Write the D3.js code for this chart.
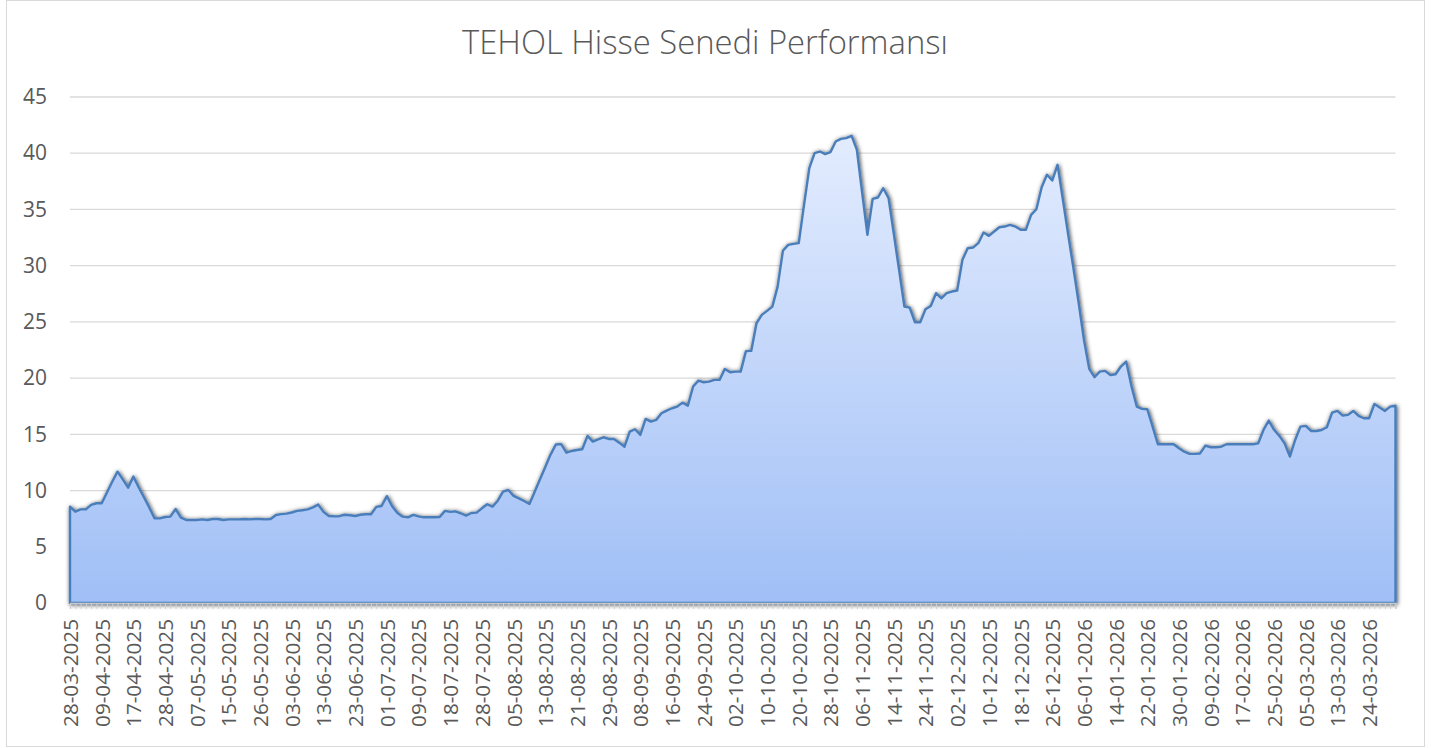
<!DOCTYPE html>
<html>
<head>
<meta charset="utf-8">
<script src="https://cdn.jsdelivr.net/npm/d3@7"></script>
<style>
  body { margin: 0; background: #fff; }
  svg { display: block; font-family: "Open Sans", "Noto Sans", sans-serif; }
</style>
</head>
<body>
<svg id="chart" width="1442" height="748"></svg>
<script>
// closing prices, one per trading day (28-03-2025 .. end of March 2026)
const prices = [
  8.57, 8.12, 8.33, 8.33, 8.72, 8.87, 8.87, 9.83, 10.78, 11.68,
  11.0, 10.26, 11.24, 10.3, 9.4, 8.5, 7.53, 7.53, 7.65, 7.68,
  8.36, 7.6, 7.38, 7.38, 7.38, 7.44, 7.38, 7.47, 7.47, 7.38,
  7.44, 7.44, 7.44, 7.47, 7.44, 7.47, 7.47, 7.44, 7.47, 7.83,
  7.9, 7.95, 8.05, 8.19, 8.25, 8.33, 8.5, 8.75, 8.1, 7.74,
  7.7, 7.72, 7.85, 7.8, 7.74, 7.85, 7.89, 7.89, 8.55, 8.63,
  9.5, 8.6, 8.0, 7.68, 7.62, 7.83, 7.7, 7.62, 7.62, 7.62,
  7.65, 8.19, 8.1, 8.15, 7.98, 7.77, 8.0, 8.04, 8.42, 8.78,
  8.57, 9.1, 9.9, 10.05, 9.52, 9.31, 9.07, 8.81, 9.9, 11.0,
  12.1, 13.2, 14.1, 14.13, 13.37, 13.52, 13.61, 13.67, 14.86, 14.35,
  14.56, 14.74, 14.59, 14.59, 14.26, 13.9, 15.24, 15.45, 14.95, 16.37,
  16.13, 16.28, 16.87, 17.11, 17.32, 17.47, 17.82, 17.55, 19.25, 19.78,
  19.63, 19.69, 19.84, 19.84, 20.82, 20.52, 20.58, 20.58, 22.4, 22.42,
  24.88, 25.62, 25.98, 26.36, 28.14, 31.32, 31.85, 31.94, 32.0, 35.4,
  38.67, 40.0, 40.15, 39.92, 40.1, 41.04, 41.28, 41.34, 41.55, 40.3,
  36.5, 32.74, 35.94, 36.06, 36.89, 36.0, 32.8, 29.6, 26.36, 26.27,
  24.97, 24.97, 26.13, 26.42, 27.55, 27.1, 27.55, 27.7, 27.79, 30.52,
  31.55, 31.61, 32.0, 32.95, 32.65, 33.04, 33.42, 33.48, 33.63, 33.48,
  33.19, 33.19, 34.52, 35.02, 36.98, 38.08, 37.57, 38.97, 35.9, 32.8,
  29.8, 26.7, 23.4, 20.82, 20.08, 20.58, 20.64, 20.28, 20.34, 21.03,
  21.47, 19.28, 17.47, 17.26, 17.23, 15.69, 14.12, 14.12, 14.12, 14.12,
  13.76, 13.46, 13.26, 13.26, 13.3, 14.0, 13.85, 13.85, 13.9, 14.12,
  14.12, 14.12, 14.12, 14.12, 14.12, 14.2, 15.39, 16.22, 15.4, 14.86,
  14.2, 13.02, 14.5, 15.69, 15.75, 15.3, 15.3, 15.39, 15.63, 16.93,
  17.08, 16.66, 16.73, 17.08, 16.64, 16.43, 16.43, 17.7, 17.38, 17.08,
  17.47, 17.55
];

// every 6th trading day gets a label
const labelStep = 6;
const dateLabels = [
  "28-03-2025", "09-04-2025", "17-04-2025", "28-04-2025", "07-05-2025", "15-05-2025",
  "26-05-2025", "03-06-2025", "13-06-2025", "23-06-2025", "01-07-2025", "09-07-2025",
  "18-07-2025", "28-07-2025", "05-08-2025", "13-08-2025", "21-08-2025", "29-08-2025",
  "08-09-2025", "16-09-2025", "24-09-2025", "02-10-2025", "10-10-2025", "20-10-2025",
  "28-10-2025", "06-11-2025", "14-11-2025", "24-11-2025", "02-12-2025", "10-12-2025",
  "18-12-2025", "26-12-2025", "06-01-2026", "14-01-2026", "22-01-2026", "30-01-2026",
  "09-02-2026", "17-02-2026", "25-02-2026", "05-03-2026", "13-03-2026", "24-03-2026"
];

const yTicks = [0, 5, 10, 15, 20, 25, 30, 35, 40, 45];
const chartTitle = "TEHOL Hisse Senedi Performansı";

const svg = d3.select("#chart");
const margin = { top: 97, right: 46.5, bottom: 145, left: 70 };
const W = 1442, H = 748;
const innerW = W - margin.left - margin.right;
const innerH = H - margin.top - margin.bottom;

// scale a text selection so its first node has the wanted length
function fitFont(sel, base, wanted) {
  const len = sel.node().getComputedTextLength();
  sel.style("font-size", (base * wanted / len).toFixed(2) + "px");
}

// chart border
svg.append("rect")
  .attr("x", 6.5).attr("y", 0.5)
  .attr("width", 1418).attr("height", 746)
  .attr("fill", "#fff")
  .attr("stroke", "#d9d9d9");

// title, sized to the reference width
const title = svg.append("text")
  .attr("x", 705).attr("y", 54)
  .attr("text-anchor", "middle")
  .attr("fill", "#595959")
  .style("font-weight", 300)
  .style("font-size", "30px")
  .text(chartTitle);
fitFont(title, 30, 486);

const g = svg.append("g")
  .attr("transform", `translate(${margin.left},${margin.top})`);

const x = d3.scaleLinear().domain([0, prices.length - 1]).range([0, innerW]);
const y = d3.scaleLinear().domain([0, 45]).range([innerH, 0]);

// gridlines
g.append("g")
  .selectAll("line")
  .data(yTicks)
  .join("line")
    .attr("x1", 0).attr("x2", innerW)
    .attr("y1", d => y(d)).attr("y2", d => y(d))
    .attr("stroke", "#d9d9d9")
    .attr("stroke-width", 1.3);

// y labels
const yLabels = g.append("g")
  .call(d3.axisLeft(y).tickValues(yTicks).tickSize(0).tickPadding(23))
  .call(a => a.select(".domain").remove())
  .selectAll("text")
    .attr("fill", "#595959")
    .style("font-family", "\"Open Sans\", sans-serif")
    .style("font-size", "20px");
fitFont(yLabels.filter(d => d === 45), 20, 24);
yLabels.style("font-size", yLabels.filter(d => d === 45).style("font-size"));

// gradient + shadow
const defs = svg.append("defs");
const grad = defs.append("linearGradient")
  .attr("id", "areaFill")
  .attr("gradientUnits", "userSpaceOnUse")
  .attr("x1", 0).attr("x2", 0)
  .attr("y1", y(d3.max(prices))).attr("y2", y(0));
grad.append("stop").attr("offset", "0%").attr("stop-color", "#e3ecfe");
grad.append("stop").attr("offset", "100%").attr("stop-color", "#a0bff6");

const shadow = defs.append("filter")
  .attr("id", "shade")
  .attr("x", "-5%").attr("y", "-5%")
  .attr("width", "110%").attr("height", "110%");
shadow.append("feDropShadow")
  .attr("dx", 0.8).attr("dy", 0.8)
  .attr("stdDeviation", 2)
  .attr("flood-color", "#000")
  .attr("flood-opacity", 0.75);

const area = d3.area()
  .x((d, i) => x(i))
  .y0(y(0))
  .y1(d => y(d));

g.append("path")
  .datum(prices)
  .attr("d", area)
  .attr("fill", "url(#areaFill)")
  .attr("stroke", "#4a7ebb")
  .attr("stroke-width", 2.4)
  .attr("stroke-linejoin", "round")
  .attr("filter", "url(#shade)");

// x axis: a tick for every day, label every 6th
const xAxis = g.append("g")
  .attr("transform", `translate(0,${innerH})`)
  .call(d3.axisBottom(x)
    .tickValues(d3.range(prices.length))
    .tickSize(6)
    .tickFormat(i => i % labelStep === 0 ? dateLabels[i / labelStep] : ""));

xAxis.select(".domain").attr("stroke", "#c8c8c8").attr("stroke-width", 1.3);
xAxis.selectAll(".tick line").attr("stroke", "#d0d0d0");
const xLabels = xAxis.selectAll(".tick text")
  .filter(i => i % labelStep === 0)
  .attr("fill", "#595959")
  .style("font-family", "\"Open Sans\", sans-serif")
  .style("font-size", "20px")
  .attr("text-anchor", "end")
  .attr("transform", "rotate(-90)")
  .attr("x", -16)
  .attr("y", 0)
  .attr("dy", "0.36em");
fitFont(xLabels.filter(i => i === 0), 20, 108);
xLabels.style("font-size", xLabels.filter(i => i === 0).style("font-size"));
</script>
</body>
</html>
